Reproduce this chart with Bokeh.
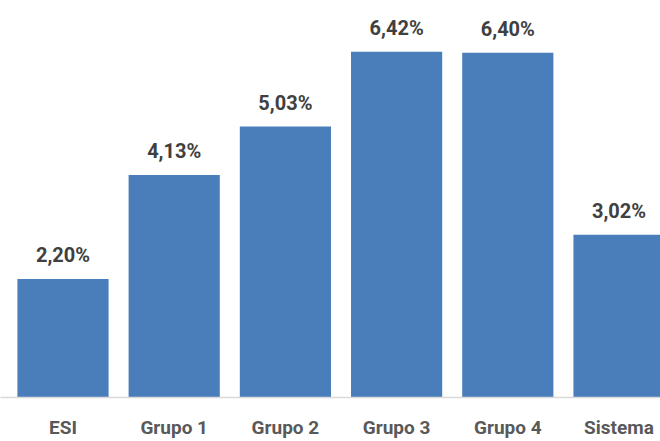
from bokeh.plotting import figure
from bokeh.models import ColumnDataSource, Range1d, FixedTicker
from bokeh.core.properties import value
from bokeh.embed import file_html
from bokeh.resources import INLINE

categories = ["ESI", "Grupo 1", "Grupo 2", "Grupo 3", "Grupo 4", "Sistema"]
values = [2.20, 4.13, 5.03, 6.42, 6.40, 3.02]
labels = ["2,20%", "4,13%", "5,03%", "6,42%", "6,40%", "3,02%"]

FONT = "Roboto"

xs = list(range(len(categories)))
src = ColumnDataSource(dict(x=xs, top=values, label=labels))

p = figure(width=660, height=441, output_backend="svg", toolbar_location=None,
           x_range=Range1d(-0.562, 5.373), y_range=Range1d(0, 7.37),
           min_border_left=0, min_border_right=0, min_border_top=0, min_border_bottom=0)
p.outline_line_color = None
p.background_fill_color = "white"
p.border_fill_color = "white"

p.vbar(x="x", top="top", width=0.82, bottom=0, source=src,
       fill_color="#4a7ebb", line_color=None)

p.text(x="x", y="top", text="label", source=src,
       text_align="center", text_baseline="middle", y_offset=-24,
       text_font=value(FONT), text_font_style="bold",
       text_font_size="20px", text_color="#404040")

p.yaxis.visible = False
p.xgrid.visible = False
p.ygrid.visible = False

ax = p.xaxis[0]
ax.ticker = FixedTicker(ticks=xs)
ax.major_label_overrides = {i: c for i, c in zip(xs, categories)}
ax.major_tick_line_color = None
ax.minor_tick_line_color = None
ax.axis_line_color = "#d9d9d9"
ax.axis_line_width = 1.5
ax.major_label_standoff = 12
ax.major_label_text_font = FONT
ax.major_label_text_font_style = "bold"
ax.major_label_text_font_size = "19px"
ax.major_label_text_color = "#595959"

open("out.html", "w").write(file_html(p, INLINE))
